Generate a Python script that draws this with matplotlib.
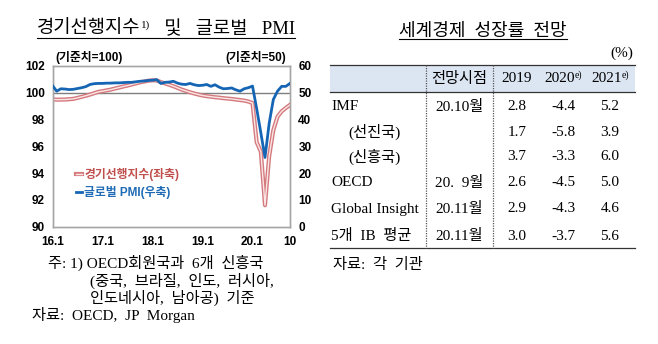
import matplotlib
matplotlib.use('Agg')
import matplotlib.pyplot as plt
import matplotlib.patheffects as pe
from matplotlib.font_manager import FontProperties
from matplotlib.patches import Rectangle

# ---------------- data ----------------
# monthly, 2016.1 .. 2020.10 (58 months)
cli = [99.48, 99.47, 99.47, 99.48, 99.50, 99.53, 99.60, 99.68, 99.76, 99.85, 99.95, 100.05,
       100.10, 100.16, 100.22, 100.30, 100.37, 100.45, 100.52, 100.60, 100.68, 100.76, 100.82, 100.88,
       100.91, 100.90, 100.78, 100.68, 100.58, 100.47, 100.35, 100.22, 100.12, 100.02, 99.93, 99.85,
       99.78, 99.73, 99.69, 99.65, 99.62, 99.58, 99.55, 99.52, 99.48, 99.44, 99.40, 99.33,
       99.22, 96.30, 95.60, 91.60, 95.25, 97.20, 98.20, 98.60, 98.85, 99.08]
pmi = [52.6, 50.5, 51.4, 51.3, 51.1, 51.2, 51.5, 51.8, 52.2, 53.0, 53.3, 53.4,
       53.4, 53.5, 53.5, 53.6, 53.6, 53.7, 53.8, 53.8, 54.0, 54.2, 54.3, 54.5,
       54.6, 54.8, 53.4, 53.8, 53.9, 54.2, 53.5, 53.1, 53.0, 53.4, 52.9, 52.6,
       52.7, 53.0, 52.3, 52.9, 52.0, 51.4, 51.5, 51.7, 51.0, 50.5, 51.4, 51.8,
       52.4, 44.0, 35.0, 25.8, 38.5, 47.4, 50.5, 52.3, 52.3, 53.4]
xtick_labels = ["16.1", "17.1", "18.1", "19.1", "20.1", "10"]
xtick_months = [0, 12, 24, 36, 48, 57]
left_ticks = [90, 92, 94, 96, 98, 100, 102]
right_ticks = [0, 10, 20, 30, 40, 50, 60]
legend_labels = ["경기선행지수(좌축)", "글로벌 PMI(우축)"]

# table
row_labels = ["IMF", "(선진국)", "(신흥국)", "OECD", "Global Insight", "5개  IB  평균"]
row_dates = ["20.10월", "", "", "20.  9월", "20.11월", "20.11월"]
g2019 = [2.8, 1.7, 3.7, 2.6, 2.9, 3.0]
g2020 = [-4.4, -5.8, -3.3, -4.5, -4.3, -3.7]
g2021 = [5.2, 3.9, 6.0, 5.0, 4.6, 5.6]
year_headers = ["2019", "2020", "2021"]
year_sups = ["", "e)", "e)"]

# ---------------- style ----------------
SERIF = ['Liberation Serif', 'Noto Sans CJK KR']
SANS = ['Liberation Sans', 'Noto Sans CJK KR']
RED_OUT = '#d47a7e'
RED_IN = '#fbe6e6'
RED_TXT = '#c0504d'
BLUE = '#1565b5'
BLUE_TXT = '#1f6bb5'

W, H = 658, 344
fig = plt.figure(figsize=(W / 100, H / 100), dpi=100)
fig.patch.set_facecolor('white')

# overlay axes in pixel coordinates for text / table
ov = fig.add_axes([0, 0, 1, 1], zorder=-1)
ov.set_xlim(0, W)
ov.set_ylim(H, 0)
ov.axis('off')

renderer = fig.canvas.get_renderer()


def rich(x, y, pieces, ha='left', color='black'):
    arts = []
    cur = 0.0
    for s, size, dy, fam in pieces:
        t = ov.text(0, y + dy, s, fontsize=size, family=fam, va='center', ha='left', color=color)
        w = t.get_window_extent(renderer).width
        arts.append((t, cur))
        cur += w
    x0 = x - cur / 2 if ha == 'center' else (x - cur if ha == 'right' else x)
    for t, off in arts:
        t.set_x(x0 + off)
    return x0, x0 + cur


# ---------------- chart ----------------
L, R, T, B = 52.5, 290, 65.7, 226.7
ax = fig.add_axes([L / W, 1 - B / H, (R - L) / W, (B - T) / H])
ax2 = ax.twinx()
x = list(range(len(cli)))

ax.axhline(100, color='#7f7f7f', lw=1.0, zorder=1)
red_line, = ax.plot(x, cli, color=RED_IN, lw=1.0, zorder=3,
                    path_effects=[pe.Stroke(linewidth=3.0, foreground=RED_OUT), pe.Normal()])
blue_line, = ax2.plot(x, pmi, color=BLUE, lw=2.0, zorder=4)

ax.set_xlim(0, 57)
ax.set_ylim(90, 102)
ax2.set_ylim(0, 60)
ax.set_xticks(xtick_months)
ax.set_xticklabels(xtick_labels)
ax.set_yticks(left_ticks)
ax2.set_yticks(right_ticks)
for lab in ax.get_xticklabels() + ax.get_yticklabels() + ax2.get_yticklabels():
    lab.set_fontsize(8.5)
    lab.set_fontweight('bold')
    lab.set_family(SANS)
ax.tick_params(axis='both', length=0)
ax.tick_params(axis='x', pad=6.5)
ax.tick_params(axis='y', pad=5.5)
ax2.tick_params(axis='y', length=0, pad=6)
for a in (ax, ax2):
    for sp in a.spines.values():
        sp.set_color('#a6a6a6')
        sp.set_linewidth(1.0)

leg_fp = FontProperties(family=SANS, weight='bold', size=8.5)
ax2.legend(handles=[red_line, blue_line], labels=legend_labels, loc='upper left',
           bbox_to_anchor=(76 / W, 1 - 168 / H), bbox_transform=fig.transFigure,
           frameon=False, prop=leg_fp, handlelength=0.55, handletextpad=0.15,
           borderpad=0, borderaxespad=0, labelspacing=0.45,
           labelcolor=[RED_TXT, BLUE_TXT])

# units
ov.text(55, 57, "(기준치=100)", fontsize=8.5, fontweight='bold', family=SANS, va='center', ha='left')
ov.text(286, 57, "(기준치=50)", fontsize=8.5, fontweight='bold', family=SANS, va='center', ha='right')

# left title
x0, x1 = rich(166, 29, [("경기선행지수", 13.5, 0, SERIF), ("1)", 8, -4, SERIF),
                        ("   및   글로벌   PMI", 13.5, 0, SERIF)], ha='center')
ov.plot([x0, x1], [38, 38], color='black', lw=0.8)

# left notes
ov.text(48, 263, "주: 1) OECD회원국과  6개  신흥국", fontsize=11, family=SERIF, va='center')
ov.text(90, 281, "(중국,  브라질,  인도,  러시아,", fontsize=11, family=SERIF, va='center')
ov.text(90, 298, "인도네시아,  남아공)  기준", fontsize=11, family=SERIF, va='center')
ov.text(32, 315, "자료:  OECD,  JP  Morgan", fontsize=11, family=SERIF, va='center')

# ---------------- table ----------------
x0, x1 = rich(483, 31, [("세계경제  성장률  전망", 13, 0, SERIF)], ha='center')
ov.plot([x0, x1], [39, 39], color='black', lw=0.8)
ov.text(633, 53, "(%)", fontsize=11, family=SERIF, va='center', ha='right')

TL, TR, TT, HB, TB = 330, 635, 65, 92, 248
ov.add_patch(Rectangle((TL, TT), TR - TL, HB - TT, facecolor='#dce6f2', edgecolor='none'))
ov.plot([TL, TR], [TT, TT], color='#333333', lw=0.9)
ov.plot([TL, TR], [HB, HB], color='#333333', lw=0.9)
ov.plot([TL, TR], [TB, TB], color='#333333', lw=0.9)
for vx in (426, 493):
    ov.plot([vx, vx], [TT, TB], color='#555555', lw=0.9, ls=(0, (1, 1)))

col_date = 459
col_years = [517, 563, 610]
hy = 79
ov.text(col_date, hy, "전망시점", fontsize=11, family=SERIF, va='center', ha='center')
for cx, yh, sp in zip(col_years, year_headers, year_sups):
    pieces = [(yh, 11, 0, SERIF)]
    if sp:
        pieces.append((sp, 7, -4, SERIF))
    rich(cx, hy, pieces, ha='center')

row_y = [107, 132, 157, 183, 209, 236]
for i, (lab, d) in enumerate(zip(row_labels, row_dates)):
    y = row_y[i]
    lx = 348 if lab.startswith("(") else 331
    ov.text(lx, y, lab, fontsize=11, family=SERIF, va='center', ha='left')
    if d:
        ov.text(col_date, y, d, fontsize=11, family=SERIF, va='center', ha='center')
    for cx, vals in zip(col_years, (g2019, g2020, g2021)):
        ov.text(cx, y, f"{vals[i]:.1f}", fontsize=11, family=SERIF, va='center', ha='center')

ov.text(333, 265, "자료:  각  기관", fontsize=11, family=SERIF, va='center', ha='left')

fig.savefig('out.png', dpi=100, facecolor='white')
